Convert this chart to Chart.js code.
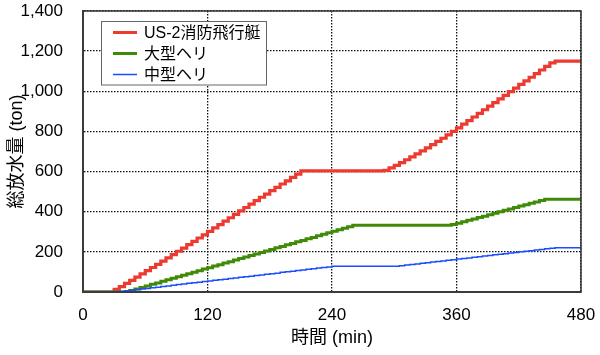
<!DOCTYPE html>
<html>
<head>
<meta charset="utf-8">
<script src="https://cdn.jsdelivr.net/npm/chart.js@4"></script>
<style>
  html, body { margin: 0; padding: 0; background: #fff; }
  #wrap { width: 600px; height: 355px; }
</style>
</head>
<body>
<div id="wrap"><canvas id="grafico" width="600" height="355"></canvas></div>
<script>
// tiempos (min), cada 5 min
const tiempos = [0,5,10,15,20,25,30,35,40,45,50,55,60,65,70,75,80,85,90,95,100,105,110,115,120,125,130,135,140,145,150,155,160,165,170,175,180,185,190,195,200,205,210,215,220,225,230,235,240,245,250,255,260,265,270,275,280,285,290,295,300,305,310,315,320,325,330,335,340,345,350,355,360,365,370,375,380,385,390,395,400,405,410,415,420,425,430,435,440,445,450,455,460,465,470,475,480];

const series = ['US-2消防飛行艇', '大型ヘリ', '中型ヘリ'];

// US-2
const valoresUS2 = [0,0,0,0,0,0,13,27,43,58,74,90,106,122,138,154,170,186,203,219,236,252,269,285,302,319,336,353,370,387,404,421,438,455,472,488,505,521,538,554,571,587,603,
  603,603,603,603,603,603,603,603,603,603,603,603,603,603,603,
  606,618,631,645,659,673,688,703,718,734,750,766,783,800,818,836,854,872,890,908,926,944,962,980,998,1016,1034,1052,1070,1088,1106,1124,1142,1150,
  1150,1150,1150,1150,1150];

// 大型ヘリ
const valoresGrande = [0,0,0,0,0,0,0,0,0,
  8,15,23,30,38,45,53,61,68,76,83,91,98,106,114,121,129,136,144,151,159,167,174,182,189,197,204,212,220,227,235,242,250,257,265,272,280,288,295,303,310,318,325,333,
  333,333,333,333,333,333,333,333,333,333,333,333,333,333,333,333,333,333,
  336,343,350,357,364,371,378,385,392,400,407,414,421,428,435,442,449,456,462,
  462,462,462,462,462,462,462];

// 中型ヘリ
const valoresMediano = [0,0,0,0,0,0,0,
  3,6,9,12,15,18,21,24,27,30,34,37,40,43,46,49,52,55,58,61,64,67,70,73,76,79,82,85,88,91,94,98,101,104,107,110,113,116,119,122,125,128,
  128,128,128,128,128,128,128,128,128,128,128,128,
  131,134,137,140,143,146,149,152,155,158,161,164,167,170,173,176,179,182,185,188,191,194,197,200,203,206,209,212,215,218,221,
  221,221,221,221,221];

const colores = ['#ec3a31', '#3f8a06', '#1a4dff'];
const grosores = [3.2, 3, 1.5];

const fuente = '"Liberation Sans", "Noto Sans CJK JP", sans-serif';

function puntos(valores) {
    return tiempos.map((t, i) => ({ x: t, y: valores[i] }));
}

// borde del área y leyenda dentro del gráfico
const extras = {
    id: 'extras',
    afterDatasetsDraw(chart) {
        const ctx = chart.ctx;
        const a = chart.chartArea;
        ctx.save();
        ctx.strokeStyle = '#333';
        ctx.lineWidth = 1.5;
        ctx.strokeRect(a.left, a.top, a.right - a.left, a.bottom - a.top);

        // leyenda
        const bx = 101.5, by = 21.5, bw = 165, bh = 63.5;
        ctx.fillStyle = '#fff';
        ctx.fillRect(bx, by, bw, bh);
        ctx.strokeStyle = '#666';
        ctx.lineWidth = 1;
        ctx.strokeRect(bx, by, bw, bh);
        ctx.font = '16px ' + fuente;
        ctx.textBaseline = 'middle';
        series.forEach((nombre, i) => {
            const y = 32.5 + i * 21;
            ctx.strokeStyle = colores[i];
            ctx.lineWidth = i === 2 ? 1.5 : 3;
            ctx.beginPath();
            ctx.moveTo(113, y);
            ctx.lineTo(137, y);
            ctx.stroke();
            ctx.fillStyle = '#000';
            ctx.fillText(nombre, 144, y + 1);
        });
        ctx.restore();
    }
};

const ctx = document.getElementById('grafico').getContext('2d');

new Chart(ctx, {
    type: 'line',
    data: {
        datasets: series.map((nombre, i) => ({
            label: nombre,
            data: puntos([valoresUS2, valoresGrande, valoresMediano][i]),
            borderColor: colores[i],
            backgroundColor: colores[i],
            borderWidth: grosores[i],
            pointRadius: 0,
            stepped: true,
            fill: false
        })).reverse()
    },
    options: {
        responsive: false,
        animation: false,
        layout: { padding: { top: 11, right: 19, bottom: 6, left: 0 } },
        plugins: {
            legend: { display: false },
            tooltip: { enabled: false }
        },
        scales: {
            x: {
                type: 'linear',
                min: 0,
                max: 480,
                ticks: {
                    stepSize: 120,
                    padding: 0,
                    color: '#000',
                    font: { family: fuente, size: 17 }
                },
                grid: {
                    color: '#111',
                    lineWidth: 1.3,
                    drawTicks: true,
                    tickLength: 13,
                    tickColor: 'rgba(0,0,0,0)'
                },
                border: { color: '#555', width: 2, dash: [1.5, 1.5] },
                title: {
                    display: true,
                    text: '時間 (min)',
                    color: '#000',
                    font: { family: fuente, size: 18 },
                    padding: { top: 0, bottom: 0 }
                },
                afterFit: s => { s.height = 57; }
            },
            y: {
                min: 0,
                max: 1400,
                ticks: {
                    stepSize: 200,
                    padding: 0,
                    color: '#000',
                    font: { family: fuente, size: 17 }
                },
                grid: {
                    color: '#111',
                    lineWidth: 1.3,
                    drawTicks: true,
                    tickLength: 20,
                    tickColor: 'rgba(0,0,0,0)'
                },
                border: { color: '#555', width: 2, dash: [1.5, 1.5] },
                title: {
                    display: true,
                    text: '総放水量 (ton)',
                    color: '#000',
                    font: { family: fuente, size: 18 },
                    padding: { top: 6, bottom: 4 }
                },
                afterFit: s => { s.width = 83; }
            }
        }
    },
    plugins: [extras]
});
</script>
</body>
</html>
